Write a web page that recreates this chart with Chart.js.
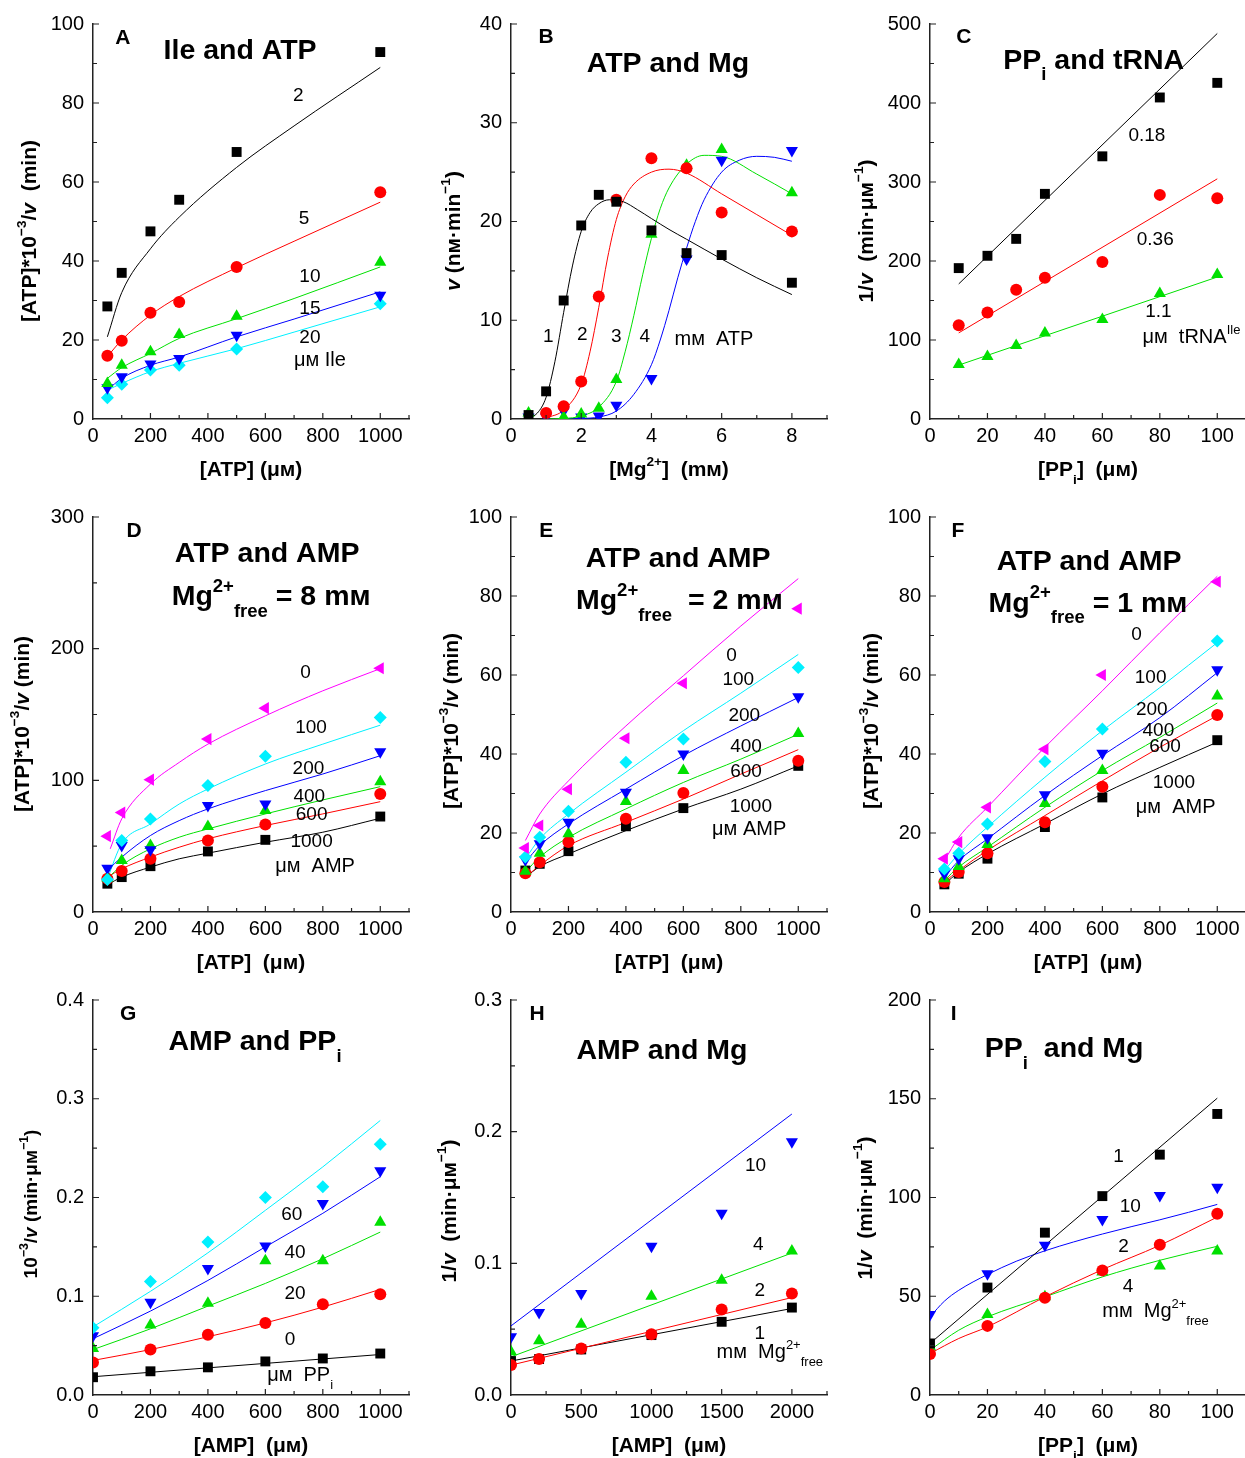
<!DOCTYPE html>
<html>
<head>
<meta charset="utf-8">
<title>Kinetic panels A-I</title>
<script src="https://cdn.jsdelivr.net/npm/chart.js@4.4.1/dist/chart.umd.min.js"></script>
<style>
  html, body { margin: 0; padding: 0; background: #fff; }
  body { position: relative; width: 1245px; height: 1458px; overflow: hidden; }
  canvas { position: absolute; }
</style>
</head>
<body>
<script>
// ---------- tick labels ----------
const ticksAtp = [0, 200, 400, 600, 800, 1000];
const ticksMg = [0, 2, 4, 6, 8];
const ticksPpi = [0, 20, 40, 60, 80, 100];
const ticksAmpH = [0, 500, 1000, 1500, 2000];
const ticksY100 = [0, 20, 40, 60, 80, 100];
const ticksY40 = [0, 10, 20, 30, 40];
const ticksY500 = [0, 100, 200, 300, 400, 500];
const ticksY300 = [0, 100, 200, 300];
const ticksY04 = [0, 0.1, 0.2, 0.3, 0.4];
const ticksY03 = [0, 0.1, 0.2, 0.3];
const ticksY200 = [0, 50, 100, 150, 200];

// ---------- A: Ile and ATP ----------
const atpA = [50, 100, 200, 300, 500, 1000];
const aIle2 = [28.5, 37.0, 47.5, 55.5, 67.6, 92.9];
const aIle5 = [16.0, 19.8, 26.9, 29.6, 38.5, 57.4];
const aIle10 = [9.0, 13.6, 17.0, 21.4, 26.0, 39.7];
const aIle15 = [7.9, 10.7, 13.9, 15.3, 21.2, 31.3];
const aIle20 = [5.4, 8.8, 12.4, 13.6, 17.7, 29.2];
const fitXA = [50, 100, 200, 300, 500, 700, 1000];
const fitA2 = [20.8, 32.0, 43.1, 51.1, 63.7, 74.2, 89.0];
const fitA5 = [15.8, 20.0, 26.3, 31.0, 38.3, 45.0, 54.9];
const fitA10 = [10.3, 13.0, 16.6, 20.4, 25.4, 30.5, 38.5];
const fitA15 = [7.3, 10.3, 13.6, 15.7, 20.8, 25.3, 32.2];
const fitA20 = [7.3, 9.0, 12.0, 14.1, 17.8, 22.0, 28.4];

// ---------- B: ATP and Mg ----------
const mgB1 = [0.5, 1, 1.5, 2, 2.5, 3, 4, 5, 6, 8];
const bAtp1 = [0.4, 2.8, 12.0, 19.6, 22.7, 22.0, 19.1, 16.8, 16.6, 13.8];
const mgB2 = [1, 1.5, 2, 2.5, 3, 4, 5, 6, 8];
const bAtp2 = [0.6, 1.3, 3.8, 12.4, 22.2, 26.4, 25.4, 20.9, 19.0];
const mgB3 = [0.5, 1.5, 2, 2.5, 3, 4, 5, 6, 8];
const bAtp3 = [0.6, 0.2, 0.5, 1.1, 4.0, 18.7, 25.7, 27.3, 22.9];
const mgB4 = [0.5, 1, 1.5, 2, 2.5, 3, 4, 5, 6, 8];
const bAtp4 = [0.2, 0.2, 0.8, 0.2, 0.3, 1.4, 4.1, 16.2, 26.2, 27.2];
const fitXB1 = [0.5, 0.75, 1.0, 1.25, 1.5, 1.75, 2.0, 2.25, 2.5, 2.8, 3.2, 3.6, 4.0, 4.5, 5.0, 6.0, 7.0, 8.0];
const fitB1 = [0.1, 0.6, 2.2, 5.8, 10.8, 15.5, 19.0, 20.9, 21.8, 22.2, 22.0, 21.2, 20.3, 19.2, 18.2, 16.2, 14.3, 12.6];
const fitXB2 = [1.0, 1.5, 2.0, 2.25, 2.5, 2.75, 3.0, 3.25, 3.5, 4.0, 4.5, 5.0, 6.0, 7.0, 8.0];
const fitB2 = [0.1, 0.9, 3.5, 6.8, 11.3, 16.3, 20.2, 22.5, 23.8, 25.0, 25.3, 24.9, 22.8, 20.7, 18.6];
const fitXB3 = [1.0, 1.5, 2.0, 2.5, 3.0, 3.25, 3.5, 3.75, 4.0, 4.25, 4.5, 5.0, 5.5, 6.0, 7.0, 8.0];
const fitB3 = [0.0, 0.05, 0.3, 1.2, 3.8, 6.8, 10.5, 14.6, 18.3, 21.3, 23.4, 25.8, 26.7, 26.6, 24.8, 22.8];
const fitXB4 = [1.5, 2.0, 2.5, 3.0, 3.5, 4.0, 4.25, 4.5, 4.75, 5.0, 5.25, 5.5, 6.0, 6.5, 7.0, 7.5, 8.0];
const fitB4 = [0.0, 0.05, 0.2, 0.8, 2.5, 5.5, 8.0, 11.0, 14.3, 17.3, 20.0, 22.2, 25.0, 26.2, 26.6, 26.5, 26.1];

// ---------- C: PPi and tRNA ----------
const ppiC = [10, 20, 30, 40, 60, 80, 100];
const cTrna018 = [191, 206.6, 228, 285, 332.5, 407, 425.5];
const cTrna036 = [118.7, 134.7, 163.7, 178.9, 198.7, 283.7, 279.5];
const cTrna11 = [69, 79, 93, 109, 126, 159, 183];
const fitXC = [10, 100];
const fitC018 = [171, 488];
const fitC036 = [109, 304];
const fitC11 = [68.2, 179.7];

// ---------- D, E, F: ATP and AMP ----------
const atpDEF = [50, 100, 200, 400, 600, 1000];
const dAmp0 = [57.6, 75.5, 100.5, 131.3, 154.8, 185.1];
const dAmp100 = [24.7, 54.3, 70.7, 96.0, 118.2, 147.7];
const dAmp200 = [33.3, 50.5, 47.2, 80.8, 82.0, 121.7];
const dAmp400 = [25.8, 39.1, 50.5, 64.9, 77.0, 99.0];
const dAmp600 = [25.3, 31.1, 40.4, 54.3, 66.4, 89.6];
const dAmp1000 = [21.5, 26.5, 34.8, 46.0, 54.8, 72.5];
const fitXD = [60, 100, 200, 300, 400, 600, 800, 1000];
const fitXD2 = [50, 100, 200, 300, 400, 600, 800, 1000];
const fitD0 = [48.0, 70.7, 97.2, 113.6, 127.5, 149.0, 168.0, 184.8];
const fitD100 = [25.3, 51.8, 66.9, 82.0, 93.4, 112.4, 127.5, 141.9];
const fitD200 = [31.6, 41.7, 58.1, 69.4, 78.3, 92.2, 104.8, 118.7];
const fitD400 = [25.3, 35.4, 48.0, 56.8, 63.1, 74.5, 85.1, 95.2];
const fitD600 = [26.5, 32.8, 41.7, 49.2, 55.6, 65.7, 74.5, 83.8];
const fitD1000 = [20.7, 26.5, 34.1, 40.4, 44.7, 53.0, 60.6, 71.2];

const eAmp0 = [16.2, 21.9, 31.1, 44.0, 57.9, 76.8];
const eAmp100 = [13.9, 18.9, 25.5, 37.9, 43.8, 61.9];
const eAmp200 = [13.2, 17.3, 22.7, 30.3, 40.0, 54.5];
const eAmp400 = [10.3, 14.9, 19.8, 28.0, 35.8, 45.2];
const eAmp600 = [9.8, 12.6, 17.7, 23.6, 30.1, 38.3];
const eAmp1000 = [10.5, 12.2, 15.4, 21.7, 26.3, 37.0];
const fitXEF = [50, 100, 200, 400, 600, 800, 1000];
const fitE0 = [18.1, 24.8, 33.2, 47.1, 59.8, 72.4, 84.4];
const fitE100 = [13.5, 18.5, 24.8, 35.4, 45.9, 55.4, 65.2];
const fitE200 = [12.6, 16.8, 22.3, 31.1, 39.6, 47.1, 54.3];
const fitE400 = [10.1, 13.9, 18.9, 26.1, 32.8, 38.7, 45.0];
const fitE600 = [8.8, 11.8, 16.8, 22.7, 28.6, 34.9, 41.1];
const fitE1000 = [8.8, 11.5, 14.7, 20.6, 26.1, 31.1, 37.0];

const fAmp0 = [13.5, 17.7, 26.5, 41.2, 60.0, 83.6];
const fAmp100 = [10.9, 14.9, 22.3, 38.1, 46.3, 68.6];
const fAmp200 = [9.7, 13.5, 18.8, 29.7, 40.2, 61.3];
const fAmp400 = [8.4, 11.5, 17.1, 27.5, 35.8, 54.7];
const fAmp600 = [7.6, 10.1, 14.9, 22.7, 31.7, 49.9];
const fAmp1000 = [7.0, 9.7, 13.5, 21.5, 29.0, 43.5];
const fitF0 = [13.0, 18.9, 26.5, 41.7, 56.0, 70.7, 85.0];
const fitF100 = [10.5, 14.7, 21.5, 34.1, 45.9, 56.8, 68.2];
const fitF200 = [8.8, 13.0, 18.5, 29.5, 39.6, 49.2, 60.6];
const fitF400 = [8.0, 11.4, 16.4, 26.5, 35.8, 44.2, 52.9];
const fitF600 = [7.6, 10.5, 15.6, 24.4, 33.2, 41.7, 49.7];
const fitF1000 = [7.0, 10.1, 14.7, 22.3, 29.9, 36.6, 43.0];

// ---------- G: AMP and PPi ----------
const ampG = [0, 200, 400, 600, 800, 1000];
const gCyan = [0.068, 0.115, 0.155, 0.200, 0.211, 0.254];
const gBlue = [0.060, 0.094, 0.128, 0.151, 0.194, 0.227];
const gGreen = [0.047, 0.071, 0.093, 0.136, 0.136, 0.175];
const gRed = [0.033, 0.046, 0.061, 0.073, 0.092, 0.102];
const gBlack = [0.018, 0.024, 0.028, 0.034, 0.037, 0.042];
const fitXG = [0, 200, 400, 600, 800, 1000];
const fitGCyan = [0.069, 0.105, 0.144, 0.187, 0.231, 0.278];
const fitGBlue = [0.057, 0.085, 0.116, 0.150, 0.184, 0.221];
const fitGGreen = [0.046, 0.067, 0.090, 0.113, 0.138, 0.165];
const fitGRed = [0.035, 0.046, 0.059, 0.073, 0.089, 0.107];
const fitGBlack = [0.0185, 0.023, 0.0275, 0.032, 0.0365, 0.041];

// ---------- H: AMP and Mg ----------
const ampH = [0, 200, 500, 1000, 1500, 2000];
const hMg10 = [0.0442, 0.0626, 0.077, 0.1129, 0.138, 0.1924];
const hMg4 = [0.0328, 0.0412, 0.0538, 0.075, 0.0871, 0.1093];
const hMg2 = [0.0227, 0.0273, 0.0354, 0.0462, 0.0649, 0.077];
const hMg1 = [0.0258, 0.0273, 0.0346, 0.0455, 0.0556, 0.0664];
const fitXH = [0, 2000];
const fitH10 = [0.0525, 0.2134];
const fitH4 = [0.029, 0.1078];
const fitH2 = [0.0227, 0.074];
const fitH1 = [0.0258, 0.0657];

// ---------- I: PPi and Mg ----------
const ppiI = [0, 20, 40, 60, 80, 100];
const iMg1 = [26.1, 54.4, 82.2, 100.7, 121.7, 142.3];
const iMg10 = [40.7, 61.4, 75.8, 88.9, 101.0, 105.2];
const iMg2 = [20.7, 35.0, 49.3, 63.1, 76.1, 91.8];
const iMg4 = [24.4, 40.7, 49.7, 62.3, 65.3, 72.9];
const fitXI1 = [0, 100];
const fitI1 = [26.1, 150.3];
const fitXI10 = [0, 5, 10, 20, 30, 40, 50, 60, 70, 80, 90, 100];
const fitI10 = [39.6, 47.5, 53.0, 61.0, 67.7, 73.0, 77.5, 81.5, 85.2, 88.7, 92.5, 96.5];
const fitXI = [0, 10, 20, 40, 60, 80, 100];
const fitI2 = [21.0, 28.6, 34.5, 49.7, 63.5, 75.8, 90.1];
const fitI4 = [22.7, 32.8, 39.6, 49.7, 59.8, 68.2, 75.3];

// ---------- look ----------
const FONT = "'Liberation Sans', Arial, Helvetica, sans-serif";
const BLACK = '#000000', RED = '#ff0000', GREEN = '#00e000', BLUE = '#0000ff', CYAN = '#00f0ff', MAGENTA = '#ff00ff';
const markers = {
  square: { style: 'rect', r: 7, rot: 0 },
  circle: { style: 'circle', r: 6, rot: 0 },
  up: { style: 'triangle', r: 7, rot: 0 },
  down: { style: 'triangle', r: 7, rot: 180 },
  diamond: { style: 'rectRot', r: 6.5, rot: 0 },
  left: { style: 'triangle', r: 7, rot: 270 }
};
const textKinds = {
  L: { size: 21, bold: true },
  T: { size: 28.5, bold: true },
  n: { size: 19, bold: false },
  u: { size: 20, bold: false }
};

// plot-area edges on the page
const colLeft = [93, 511, 930], colRight = [409, 827, 1246];
const rowTop = [23, 516, 999], rowBottom = [419, 912, 1395];
const AXIS_W = 90, AXIS_H = 75, PAD_T = 20, PAD_R = 12;

function pts(xs, ys) { return xs.map((x, i) => ({ x: x, y: ys[i] })); }

// "^{..}" superscript, "_{..}" subscript, "*{..}" italic
function parseRich(s) {
  const segs = [];
  let buf = '', i = 0;
  while (i < s.length) {
    const c = s[i];
    if ((c === '^' || c === '_' || c === '*') && s[i + 1] === '{') {
      if (buf) { segs.push({ t: buf, m: '' }); buf = ''; }
      const j = s.indexOf('}', i);
      segs.push({ t: s.slice(i + 2, j), m: c });
      i = j + 1;
    } else { buf += c; i++; }
  }
  if (buf) segs.push({ t: buf, m: '' });
  return segs;
}

function richText(ctx, str, x, y, size, bold, vertical) {
  const segs = parseRich(str);
  let total = 0;
  segs.forEach(sg => {
    const small = sg.m === '^' || sg.m === '_';
    sg.size = small ? size * 0.65 : size;
    sg.dy = sg.m === '^' ? -size * 0.38 : (sg.m === '_' ? size * 0.5 : 0);
    sg.font = (sg.m === '*' ? 'italic ' : '') + (bold ? 'bold ' : '') + sg.size + 'px ' + FONT;
    ctx.font = sg.font;
    sg.w = ctx.measureText(sg.t).width;
    total += sg.w;
  });
  ctx.save();
  ctx.translate(x, y);
  if (vertical) ctx.rotate(-Math.PI / 2);
  ctx.fillStyle = '#000';
  ctx.textAlign = 'left';
  ctx.textBaseline = 'middle';
  let cx = -total / 2;
  segs.forEach(sg => {
    ctx.font = sg.font;
    ctx.fillText(sg.t, cx, sg.dy);
    cx += sg.w;
  });
  ctx.restore();
}

// inward tick marks, axis titles and in-plot labels
function decorPlugin(p) {
  return {
    id: 'decor' + p.id,
    afterDraw(chart) {
      const ctx = chart.ctx, a = chart.chartArea;
      const xs = chart.scales.x, ys = chart.scales.y;
      ctx.save();
      ctx.strokeStyle = '#222';
      ctx.lineWidth = 1.2;
      ctx.beginPath();
      const nx = Math.round((p.x[1] - p.x[0]) / p.x[2]);
      for (let i = 1; i <= nx; i++) {
        const px = xs.getPixelForValue(p.x[0] + i * p.x[2]);
        const len = i % 2 === 0 ? 6 : 4;
        ctx.moveTo(px, a.bottom);
        ctx.lineTo(px, a.bottom - len);
      }
      const ny = Math.round((p.y[1] - p.y[0]) / p.y[2]);
      for (let i = 1; i <= ny; i++) {
        const py = ys.getPixelForValue(p.y[0] + i * p.y[2]);
        const len = i % 2 === 0 ? 6 : 4;
        ctx.moveTo(a.left, py);
        ctx.lineTo(a.left + len, py);
      }
      ctx.stroke();
      ctx.restore();

      richText(ctx, p.yTitle, a.left + p.yTitlePos[0], a.top + p.yTitlePos[1], p.yTitleSize || 21, true, true);
      richText(ctx, p.xTitle, (a.left + a.right) / 2, a.bottom + 51, 21, true, false);
      p.texts.forEach(t => {
        const k = textKinds[t[3]];
        richText(ctx, t[0], xs.getPixelForValue(t[1]), ys.getPixelForValue(t[2]), k.size, k.bold, false);
      });
    }
  };
}

function makeChart(p) {
  const left = colLeft[p.col], right = colRight[p.col];
  const top = rowTop[p.row], bottom = rowBottom[p.row];
  const cv = document.createElement('canvas');
  cv.width = right - left + AXIS_W + PAD_R;
  cv.height = bottom - top + PAD_T + AXIS_H;
  cv.style.left = (left - AXIS_W) + 'px';
  cv.style.top = (top - PAD_T) + 'px';
  document.body.appendChild(cv);

  const datasets = [];
  p.series.forEach(s => {
    const m = markers[s.m];
    datasets.push({
      data: pts(s.x, s.y), showLine: false, order: 0,
      pointStyle: m.style, pointRadius: m.r, pointRotation: m.rot,
      pointBackgroundColor: s.c, pointBorderColor: s.c, pointBorderWidth: 0
    });
    datasets.push({
      data: pts(s.fx, s.fy), showLine: true, order: 1,
      pointRadius: 0, borderColor: s.c, borderWidth: 1,
      cubicInterpolationMode: 'monotone', fill: false
    });
  });

  const tickFont = { family: FONT, size: 20 };
  const fmt = v => p.dec ? Number(v).toFixed(p.dec) : String(v);

  new Chart(cv.getContext('2d'), {
    type: 'scatter',
    data: { datasets: datasets },
    options: {
      responsive: false,
      animation: false,
      events: [],
      layout: { padding: { top: PAD_T, right: PAD_R, left: 0, bottom: 0 } },
      plugins: { legend: { display: false }, tooltip: { enabled: false } },
      scales: {
        x: {
          type: 'linear', min: p.x[0], max: p.x[1],
          grid: { display: false, drawTicks: false },
          border: { display: true, color: '#222', width: 1.5 },
          ticks: { font: tickFont, color: '#000', padding: 5, maxRotation: 0, autoSkip: false, callback: v => String(v) },
          afterBuildTicks: s => { s.ticks = p.xTicks.map(v => ({ value: v })); },
          afterFit: s => { s.height = AXIS_H; }
        },
        y: {
          type: 'linear', min: p.y[0], max: p.y[1],
          grid: { display: false, drawTicks: false },
          border: { display: true, color: '#222', width: 1.5 },
          ticks: { font: tickFont, color: '#000', padding: 9, autoSkip: false, callback: fmt },
          afterBuildTicks: s => { s.ticks = p.yTicks.map(v => ({ value: v })); },
          afterFit: s => { s.width = AXIS_W; }
        }
      }
    },
    plugins: [decorPlugin(p)]
  });
}

const yAtp = '[ATP]*10^{−3}/*{v}  (min)';
const yInv = '1/*{v}  (min·μм^{−1})';

const panels = [
  {
    id: 'A', col: 0, row: 0, x: [0, 1100, 100], y: [0, 100, 10], xTicks: ticksAtp, yTicks: ticksY100,
    yTitle: yAtp, yTitlePos: [-63, 207], xTitle: '[ATP] (μм)',
    series: [
      { x: atpA, y: aIle2, fx: fitXA, fy: fitA2, c: BLACK, m: 'square' },
      { x: atpA, y: aIle5, fx: fitXA, fy: fitA5, c: RED, m: 'circle' },
      { x: atpA, y: aIle10, fx: fitXA, fy: fitA10, c: GREEN, m: 'up' },
      { x: atpA, y: aIle15, fx: fitXA, fy: fitA15, c: BLUE, m: 'down' },
      { x: atpA, y: aIle20, fx: fitXA, fy: fitA20, c: CYAN, m: 'diamond' }
    ],
    texts: [['A', 104, 96.5, 'L'], ['Ile and ATP', 512, 93.2, 'T'],
      ['2', 715, 81.8, 'n'], ['5', 735, 50.7, 'n'], ['10', 755, 36.1, 'n'],
      ['15', 755, 27.9, 'n'], ['20', 755, 20.6, 'n'], ['μм Ile', 790, 14.7, 'u']]
  },
  {
    id: 'B', col: 1, row: 0, x: [0, 9, 1], y: [0, 40, 5], xTicks: ticksMg, yTicks: ticksY40,
    yTitle: '*{v} (nм·min^{−1})', yTitlePos: [-57, 207], xTitle: '[Mg^{2+}]  (mм)',
    series: [
      { x: mgB1, y: bAtp1, fx: fitXB1, fy: fitB1, c: BLACK, m: 'square' },
      { x: mgB2, y: bAtp2, fx: fitXB2, fy: fitB2, c: RED, m: 'circle' },
      { x: mgB3, y: bAtp3, fx: fitXB3, fy: fitB3, c: GREEN, m: 'up' },
      { x: mgB4, y: bAtp4, fx: fitXB4, fy: fitB4, c: BLUE, m: 'down' }
    ],
    texts: [['B', 1.0, 38.7, 'L'], ['ATP and Mg', 4.47, 35.96, 'T'],
      ['1', 1.06, 8.3, 'n'], ['2', 2.03, 8.5, 'n'], ['3', 3.0, 8.3, 'n'], ['4', 3.81, 8.3, 'n'],
      ['mм  ATP', 5.78, 8.1, 'u']]
  },
  {
    id: 'C', col: 2, row: 0, x: [0, 110, 10], y: [0, 500, 50], xTicks: ticksPpi, yTicks: ticksY500,
    yTitle: yInv, yTitlePos: [-63, 207], xTitle: '[PP_{i}]  (μм)',
    series: [
      { x: ppiC, y: cTrna018, fx: fitXC, fy: fitC018, c: BLACK, m: 'square' },
      { x: ppiC, y: cTrna036, fx: fitXC, fy: fitC036, c: RED, m: 'circle' },
      { x: ppiC, y: cTrna11, fx: fitXC, fy: fitC11, c: GREEN, m: 'up' }
    ],
    texts: [['C', 11.8, 483.6, 'L'], ['PP_{i} and tRNA', 57, 453, 'T'],
      ['0.18', 75.5, 358.6, 'n'], ['0.36', 78.4, 227, 'n'], ['1.1', 79.5, 135.5, 'n'],
      ['μм  tRNA^{Ile}', 91, 102.7, 'u']]
  },
  {
    id: 'D', col: 0, row: 1, x: [0, 1100, 100], y: [0, 300, 50], xTicks: ticksAtp, yTicks: ticksY300,
    yTitle: '[ATP]*10^{−3}/*{v} (min)', yTitlePos: [-70, 207], xTitle: '[ATP]  (μм)',
    series: [
      { x: atpDEF, y: dAmp0, fx: fitXD, fy: fitD0, c: MAGENTA, m: 'left' },
      { x: atpDEF, y: dAmp100, fx: fitXD2, fy: fitD100, c: CYAN, m: 'diamond' },
      { x: atpDEF, y: dAmp200, fx: fitXD2, fy: fitD200, c: BLUE, m: 'down' },
      { x: atpDEF, y: dAmp400, fx: fitXD2, fy: fitD400, c: GREEN, m: 'up' },
      { x: atpDEF, y: dAmp600, fx: fitXD2, fy: fitD600, c: RED, m: 'circle' },
      { x: atpDEF, y: dAmp1000, fx: fitXD2, fy: fitD1000, c: BLACK, m: 'square' }
    ],
    texts: [['D', 143, 289, 'L'], ['ATP and AMP', 606, 272, 'T'], ['Mg^{2+}_{free} = 8 mм', 620, 239, 'T'],
      ['0', 740, 181.8, 'n'], ['100', 759, 139.6, 'n'], ['200', 750, 108.6, 'n'],
      ['400', 753, 87.6, 'n'], ['600', 761, 74, 'n'], ['1000', 761, 53, 'n'], ['μм  AMP', 773, 34.6, 'u']]
  },
  {
    id: 'E', col: 1, row: 1, x: [0, 1100, 100], y: [0, 100, 10], xTicks: ticksAtp, yTicks: ticksY100,
    yTitle: '[ATP]*10^{−3}/*{v} (min)', yTitlePos: [-59, 204], xTitle: '[ATP]  (μм)',
    series: [
      { x: atpDEF, y: eAmp0, fx: fitXEF, fy: fitE0, c: MAGENTA, m: 'left' },
      { x: atpDEF, y: eAmp100, fx: fitXEF, fy: fitE100, c: CYAN, m: 'diamond' },
      { x: atpDEF, y: eAmp200, fx: fitXEF, fy: fitE200, c: BLUE, m: 'down' },
      { x: atpDEF, y: eAmp400, fx: fitXEF, fy: fitE400, c: GREEN, m: 'up' },
      { x: atpDEF, y: eAmp600, fx: fitXEF, fy: fitE600, c: RED, m: 'circle' },
      { x: atpDEF, y: eAmp1000, fx: fitXEF, fy: fitE1000, c: BLACK, m: 'square' }
    ],
    texts: [['E', 123, 96.5, 'L'], ['ATP and AMP', 582, 89.4, 'T'], ['Mg^{2+}_{free}  = 2 mм', 586, 78.6, 'T'],
      ['0', 768, 64.8, 'n'], ['100', 791, 58.7, 'n'], ['200', 812, 49.7, 'n'],
      ['400', 818, 41.8, 'n'], ['600', 818, 35.5, 'n'], ['1000', 835, 26.7, 'n'], ['μм AMP', 829, 21, 'u']]
  },
  {
    id: 'F', col: 2, row: 1, x: [0, 1100, 100], y: [0, 100, 10], xTicks: ticksAtp, yTicks: ticksY100,
    yTitle: '[ATP]*10^{−3}/*{v} (min)', yTitlePos: [-58, 204], xTitle: '[ATP]  (μм)',
    series: [
      { x: atpDEF, y: fAmp0, fx: fitXEF, fy: fitF0, c: MAGENTA, m: 'left' },
      { x: atpDEF, y: fAmp100, fx: fitXEF, fy: fitF100, c: CYAN, m: 'diamond' },
      { x: atpDEF, y: fAmp200, fx: fitXEF, fy: fitF200, c: BLUE, m: 'down' },
      { x: atpDEF, y: fAmp400, fx: fitXEF, fy: fitF400, c: GREEN, m: 'up' },
      { x: atpDEF, y: fAmp600, fx: fitXEF, fy: fitF600, c: RED, m: 'circle' },
      { x: atpDEF, y: fAmp1000, fx: fitXEF, fy: fitF1000, c: BLACK, m: 'square' }
    ],
    texts: [['F', 97.6, 96.5, 'L'], ['ATP and AMP', 554, 88.6, 'T'], ['Mg^{2+}_{free} = 1 mм', 550, 78, 'T'],
      ['0', 719, 70.3, 'n'], ['100', 768, 59.2, 'n'], ['200', 772, 51.3, 'n'],
      ['400', 795, 46, 'n'], ['600', 818, 41.8, 'n'], ['1000', 849, 32.6, 'n'], ['μм  AMP', 855, 26.5, 'u']]
  },
  {
    id: 'G', col: 0, row: 2, x: [0, 1100, 100], y: [0, 0.4, 0.05], xTicks: ticksAtp, yTicks: ticksY04, dec: 1,
    yTitle: '10^{−3}/*{v} (min·μм^{−1})', yTitleSize: 19, yTitlePos: [-61, 204], xTitle: '[AMP]  (μм)',
    series: [
      { x: ampG, y: gCyan, fx: fitXG, fy: fitGCyan, c: CYAN, m: 'diamond' },
      { x: ampG, y: gBlue, fx: fitXG, fy: fitGBlue, c: BLUE, m: 'down' },
      { x: ampG, y: gGreen, fx: fitXG, fy: fitGGreen, c: GREEN, m: 'up' },
      { x: ampG, y: gRed, fx: fitXG, fy: fitGRed, c: RED, m: 'circle' },
      { x: ampG, y: gBlack, fx: fitXG, fy: fitGBlack, c: BLACK, m: 'square' }
    ],
    texts: [['G', 122, 0.386, 'L'], ['AMP and PP_{i}', 564, 0.357, 'T'],
      ['60', 692, 0.1825, 'n'], ['40', 703, 0.1438, 'n'], ['20', 703, 0.1027, 'n'], ['0', 686, 0.0556, 'n'],
      ['μм  PP_{i}', 721, 0.0202, 'u']]
  },
  {
    id: 'H', col: 1, row: 2, x: [0, 2250, 250], y: [0, 0.3, 0.05], xTicks: ticksAmpH, yTicks: ticksY03, dec: 1,
    yTitle: yInv, yTitlePos: [-61, 211], xTitle: '[AMP]  (μм)',
    series: [
      { x: ampH, y: hMg10, fx: fitXH, fy: fitH10, c: BLUE, m: 'down' },
      { x: ampH, y: hMg4, fx: fitXH, fy: fitH4, c: GREEN, m: 'up' },
      { x: ampH, y: hMg2, fx: fitXH, fy: fitH2, c: RED, m: 'circle' },
      { x: ampH, y: hMg1, fx: fitXH, fy: fitH1, c: BLACK, m: 'square' }
    ],
    texts: [['H', 185, 0.2894, 'L'], ['AMP and Mg', 1075, 0.2608, 'T'],
      ['10', 1741, 0.1742, 'n'], ['4', 1760, 0.1144, 'n'], ['2', 1772, 0.0795, 'n'], ['1', 1772, 0.0467, 'n'],
      ['mм  Mg^{2+}_{free}', 1843, 0.0321, 'u']]
  },
  {
    id: 'I', col: 2, row: 2, x: [0, 110, 10], y: [0, 200, 25], xTicks: ticksPpi, yTicks: ticksY200,
    yTitle: yInv, yTitlePos: [-64, 208], xTitle: '[PP_{i}]  (μм)',
    series: [
      { x: ppiI, y: iMg1, fx: fitXI1, fy: fitI1, c: BLACK, m: 'square' },
      { x: ppiI, y: iMg10, fx: fitXI10, fy: fitI10, c: BLUE, m: 'down' },
      { x: ppiI, y: iMg2, fx: fitXI, fy: fitI2, c: RED, m: 'circle' },
      { x: ppiI, y: iMg4, fx: fitXI, fy: fitI4, c: GREEN, m: 'up' }
    ],
    texts: [['I', 8.2, 193, 'L'], ['PP_{i}  and Mg', 46.7, 175, 'T'],
      ['1', 65.6, 120.4, 'n'], ['10', 69.7, 95.1, 'n'], ['2', 67.4, 74.9, 'n'], ['4', 68.9, 55, 'n'],
      ['mм  Mg^{2+}_{free}', 78.5, 42.1, 'u']]
  }
];

panels.forEach(makeChart);
</script>
</body>
</html>
